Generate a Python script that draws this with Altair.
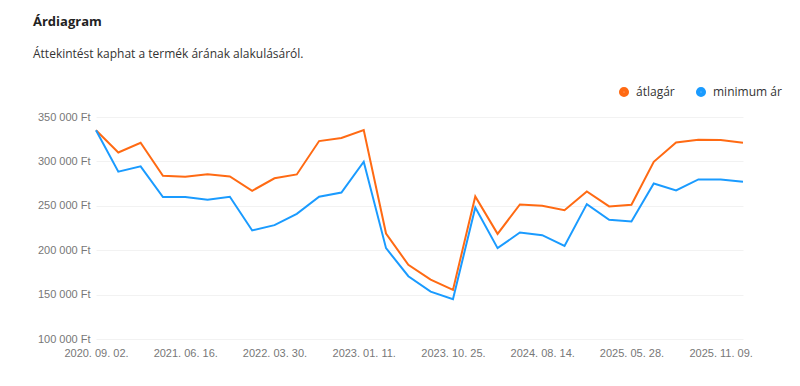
import altair as alt
import pandas as pd

# index positions along the x axis (30 samples)
idx = list(range(30))
tick_idx = [0, 4, 8, 12, 16, 20, 24, 28]
tick_labels = ["2020. 09. 02.", "2021. 06. 16.", "2022. 03. 30.", "2023. 01. 11.",
               "2023. 10. 25.", "2024. 08. 14.", "2025. 05. 28.", "2025. 11. 09."]

atlagar = [335000, 310000, 321000, 283800, 282700, 285500, 283100, 266900, 281000, 285300,
           322900, 326300, 335300, 218800, 183500, 166900, 155300, 260500, 218400, 251500,
           250000, 245100, 266200, 249300, 251100, 299600, 321400, 324400, 324100, 321000]
minimum = [335000, 288500, 294400, 259800, 259800, 256800, 260200, 222200, 228200, 241000,
           260200, 265000, 299600, 202300, 170700, 153400, 144800, 248100, 202300, 219900,
           216900, 204900, 251900, 234200, 232300, 275200, 267300, 279700, 279700, 277100]

series = ["átlagár", "minimum ár"]
colors = ["#ff6a13", "#1a9bff"]

df = pd.concat([
    pd.DataFrame({"i": idx, "ár": atlagar, "sorozat": series[0]}),
    pd.DataFrame({"i": idx, "ár": minimum, "sorozat": series[1]}),
])

label_map = "{" + ",".join(f"'{i}':'{l}'" for i, l in zip(tick_idx, tick_labels)) + "}"

chart = alt.Chart(df).mark_line(strokeWidth=2).encode(
    x=alt.X("i:Q", scale=alt.Scale(domain=[0, 29], nice=False, zero=False),
            axis=alt.Axis(values=tick_idx, labelExpr=f"{label_map}[datum.value]",
                          labelOverlap=False, labelFlush=False,
                          grid=False, domain=False, ticks=False, title=None,
                          labelFont="Liberation Sans", labelFontSize=11, labelColor="#777",
                          labelPadding=8)),
    y=alt.Y("ár:Q", scale=alt.Scale(domain=[100000, 350000], nice=False, zero=False),
            axis=alt.Axis(values=[100000, 150000, 200000, 250000, 300000, 350000],
                          labelExpr="replace(format(datum.value, ',d'), ',', ' ') + ' Ft'",
                          grid=True, gridColor="#f2f2f2", gridWidth=1,
                          domain=False, ticks=False, title=None,
                          labelFont="Liberation Sans", labelFontSize=11, labelColor="#777",
                          labelPadding=6)),
    color=alt.Color("sorozat:N", scale=alt.Scale(domain=series, range=colors),
                    legend=alt.Legend(orient="none", direction="horizontal",
                                      legendX=522, legendY=-31, title=None,
                                      symbolType="circle", symbolSize=30,
                                      symbolStrokeWidth=4.6, labelFont="Open Sans",
                                      labelFontSize=12, labelColor="#333",
                                      columnPadding=14, labelOffset=6)),
).properties(
    width=647, height=222,
    padding={"left": 88, "top": 109, "right": 49, "bottom": 40},
    autosize=alt.AutoSizeParams(type="none"),
    title=alt.TitleParams(text="Árdiagram", subtitle="Áttekintést kaphat a termék árának alakulásáról.",
                          anchor="start", frame="group", dx=-63, offset=26,
                          font="Open Sans", fontSize=13, fontWeight="bold", color="#222",
                          subtitleFont="Open Sans", subtitleFontSize=12, subtitleColor="#333",
                          subtitlePadding=20),
).configure_view(stroke=None)

chart.save("out.html", embed_options={"renderer": "svg", "actions": False})
